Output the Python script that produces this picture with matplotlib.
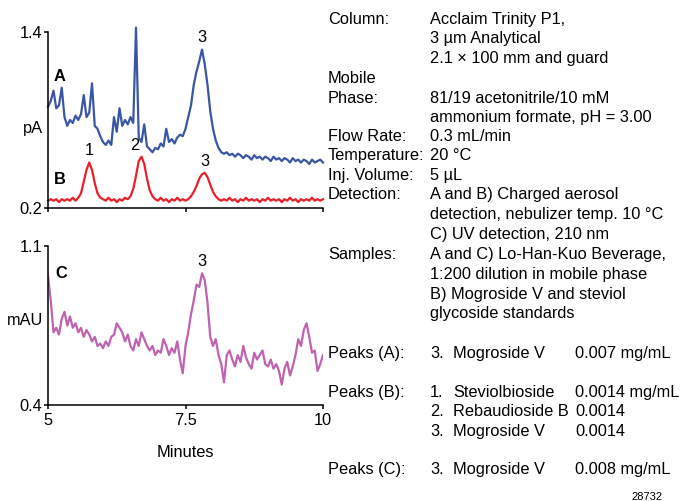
import numpy as np
from matplotlib import pyplot as plt

plt.rcParams['font.family'] = ['Liberation Sans', 'DejaVu Sans']

# retention time grid (minutes)
minutes = np.arange(101) * 0.05 + 5.0

# trace A: charged aerosol detection, beverage sample (pA)
trace_a = [
    0.89, 0.93, 1.00, 0.88, 0.90, 1.02, 0.82, 0.76, 0.80, 0.78,
    0.83, 0.80, 0.84, 0.97, 0.82, 0.85, 1.05, 0.76, 0.74, 0.69,
    0.65, 0.63, 0.66, 0.63, 0.82, 0.72, 0.88, 0.76, 0.80, 0.77,
    0.82, 0.78, 1.43, 0.68, 0.65, 0.77, 0.62, 0.60, 0.58, 0.61,
    0.60, 0.64, 0.62, 0.74, 0.65, 0.67, 0.64, 0.68, 0.70, 0.69,
    0.74, 0.82, 0.90, 1.04, 1.13, 1.20, 1.28, 1.18, 1.04, 0.86,
    0.74, 0.66, 0.61, 0.58, 0.57, 0.58, 0.56, 0.57, 0.55, 0.57,
    0.56, 0.54, 0.56, 0.55, 0.53, 0.56, 0.54, 0.55, 0.53, 0.55,
    0.54, 0.52, 0.55, 0.53, 0.54, 0.52, 0.54, 0.53, 0.51, 0.54,
    0.52, 0.53, 0.51, 0.53, 0.52, 0.50, 0.53, 0.51, 0.52, 0.53,
    0.51,
]

# trace B: standards (pA)
trace_b = [
    0.25, 0.26, 0.25, 0.26, 0.24, 0.26, 0.25, 0.26, 0.25, 0.27,
    0.25, 0.27, 0.30, 0.38, 0.46, 0.51, 0.46, 0.37, 0.30, 0.27,
    0.26, 0.25, 0.27, 0.25, 0.26, 0.24, 0.26, 0.25, 0.27, 0.26,
    0.28, 0.33, 0.42, 0.52, 0.55, 0.50, 0.40, 0.32, 0.28, 0.26,
    0.25, 0.27, 0.25, 0.26, 0.24, 0.26, 0.25, 0.27, 0.25, 0.26,
    0.25, 0.26, 0.28, 0.31, 0.35, 0.40, 0.43, 0.44, 0.41, 0.36,
    0.31, 0.28, 0.26, 0.25, 0.26, 0.25, 0.27, 0.25, 0.26, 0.24,
    0.26, 0.25, 0.27, 0.25, 0.26, 0.25, 0.26, 0.24, 0.26, 0.25,
    0.27, 0.25, 0.26, 0.25, 0.26, 0.24, 0.26, 0.25, 0.27, 0.25,
    0.26, 0.24, 0.26, 0.25, 0.26, 0.25, 0.27, 0.25, 0.26, 0.25,
    0.26,
]

# trace C: UV 210 nm, beverage sample (mAU)
trace_c = [
    0.97, 0.86, 0.72, 0.74, 0.71, 0.78, 0.81, 0.75, 0.79, 0.74,
    0.76, 0.72, 0.74, 0.70, 0.73, 0.71, 0.68, 0.70, 0.66, 0.67,
    0.65, 0.68, 0.66, 0.70, 0.71, 0.76, 0.74, 0.72, 0.68, 0.71,
    0.66, 0.64, 0.69, 0.66, 0.72, 0.69, 0.66, 0.64, 0.66, 0.62,
    0.64, 0.63, 0.69, 0.66, 0.62, 0.65, 0.63, 0.68, 0.60, 0.54,
    0.66, 0.72, 0.80, 0.86, 0.93, 0.92, 0.98, 0.95, 0.85, 0.70,
    0.66, 0.69, 0.62, 0.58, 0.50, 0.62, 0.64, 0.60, 0.57, 0.62,
    0.59, 0.66, 0.61, 0.58, 0.56, 0.63, 0.60, 0.62, 0.64, 0.58,
    0.57, 0.60, 0.56, 0.58, 0.55, 0.49, 0.56, 0.59, 0.53, 0.57,
    0.62, 0.69, 0.66, 0.73, 0.76, 0.70, 0.63, 0.64, 0.55, 0.58,
    0.62,
]

# peak labels: (trace, label, time, x offset in points)
peaks_ab = [("A", "3", 7.80, 0), ("B", "1", 5.75, 0), ("B", "2", 6.70, -5), ("B", "3", 7.85, 0)]
peaks_c = [("3", 7.80)]

blue = "#3b55a5"
red = "#e8202a"
magenta = "#c062ae"
W, H = 681, 501
fs = 11.8

fig = plt.figure(figsize=(W / 100, H / 100), dpi=100)

def px_axes(x0, y0, x1, y1):
    return fig.add_axes([x0 / W, 1 - y1 / H, (x1 - x0) / W, (y1 - y0) / H])

def style(ax):
    for s in ("top", "right"):
        ax.spines[s].set_visible(False)
    for s in ("left", "bottom"):
        ax.spines[s].set_linewidth(1.1)
    ax.tick_params(direction="out", length=3, width=1.1, pad=1, labelsize=fs)
    ax.set_xlim(5, 10)
    ax.set_xticks([5, 7.5, 10])
    ax.set_facecolor("none")

def idx(t):
    return int(round((t - 5) / 0.05))

# top panel: A and B
ax1 = px_axes(48, 32, 323, 208)
style(ax1)
ax1.plot(minutes, trace_a, color=blue, lw=1.6, clip_on=False)
ax1.plot(minutes, trace_b, color=red, lw=1.6, clip_on=False)
ax1.set_ylim(0.2, 1.4)
ax1.set_yticks([0.2, 1.4])
ax1.set_yticklabels(["0.2", "1.4"])
ax1.set_xticklabels([])
ax1.set_ylabel("pA", fontsize=fs, rotation=0, va="center", ha="right")
ax1.yaxis.set_label_coords(-0.017, 0.45)
ax1.text(0.02, 0.745, "A", transform=ax1.transAxes, fontsize=fs, fontweight="bold", va="center")
ax1.text(0.02, 0.16, "B", transform=ax1.transAxes, fontsize=fs, fontweight="bold", va="center")
for tr, lab, t, dx in peaks_ab:
    y = trace_a if tr == "A" else trace_b
    ax1.annotate(lab, xy=(t, y[idx(t)]), xytext=(dx, 3),
                 textcoords="offset points", ha="center", va="bottom", fontsize=fs)

# bottom panel: C
ax2 = px_axes(48, 246, 323, 405)
style(ax2)
ax2.plot(minutes, trace_c, color=magenta, lw=1.6)
ax2.set_ylim(0.4, 1.1)
ax2.set_yticks([0.4, 1.1])
ax2.set_yticklabels(["0.4", "1.1"])
ax2.set_xticklabels(["5", "7.5", "10"])
ax2.tick_params(axis="x", pad=3)
ax2.set_xlabel("Minutes", fontsize=fs, labelpad=12)
ax2.set_ylabel("mAU", fontsize=fs, rotation=0, va="center", ha="right")
ax2.yaxis.set_label_coords(-0.017, 0.53)
ax2.text(0.025, 0.83, "C", transform=ax2.transAxes, fontsize=fs, fontweight="bold", va="center")
for lab, t in peaks_c:
    ax2.annotate(lab, xy=(t, trace_c[idx(t)]), xytext=(0, 3),
                 textcoords="offset points", ha="center", va="bottom", fontsize=fs)

def line(x, y, s, **kw):
    # y is the visual centre of the line in pixels; place baseline below it
    fig.text(x / W, 1 - (y + 6) / H, s, fontsize=fs, va="baseline", **kw)

# method conditions
conditions = [
    (18, "Column:", "Acclaim Trinity P1,"),
    (37, "", "3 µm Analytical"),
    (57, "", "2.1 × 100 mm and guard"),
    (77, "Mobile", ""),
    (97, "Phase:", "81/19 acetonitrile/10 mM"),
    (116, "", "ammonium formate, pH = 3.00"),
    (135, "Flow Rate:", "0.3 mL/min"),
    (154, "Temperature:", "20 °C"),
    (174, "Inj. Volume:", "5 µL"),
    (193, "Detection:", "A and B) Charged aerosol"),
    (213, "", "detection, nebulizer temp. 10 °C"),
    (233, "", "C) UV detection, 210 nm"),
    (253, "Samples:", "A and C) Lo-Han-Kuo Beverage,"),
    (273, "", "1:200 dilution in mobile phase"),
    (293, "", "B) Mogroside V and steviol"),
    (312, "", "glycoside standards"),
]
for y, key, val in conditions:
    if key:
        line(328, y, key)
    if val:
        line(430, y, val)

peak_rows = [
    (352, "Peaks (A):", "3.", "Mogroside V", "0.007 mg/mL"),
    (391, "Peaks (B):", "1.", "Steviolbioside", "0.0014 mg/mL"),
    (410, "", "2.", "Rebaudioside B", "0.0014"),
    (430, "", "3.", "Mogroside V", "0.0014"),
    (468, "Peaks (C):", "3.", "Mogroside V", "0.008 mg/mL"),
]
for y, key, num, name, conc in peak_rows:
    if key:
        line(328, y, key)
    line(430, y, num)
    line(453, y, name)
    line(575, y, conc)

fig.text(663 / W, 1 - 500 / H, "28732", fontsize=8, va="baseline", ha="right")

fig.savefig("out.png", dpi=100)
